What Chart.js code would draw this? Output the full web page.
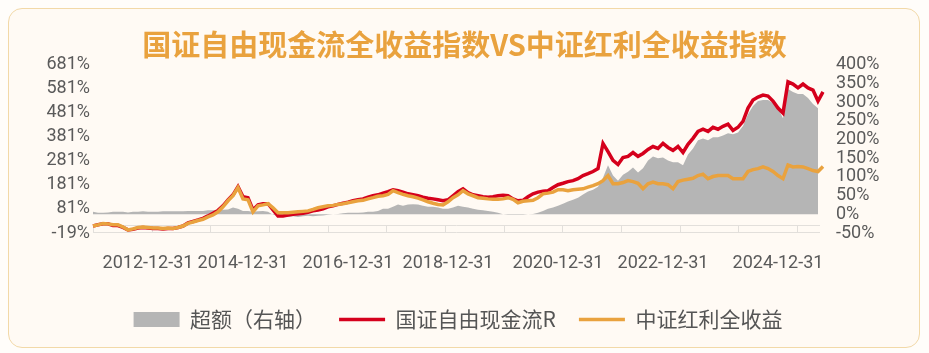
<!DOCTYPE html>
<html>
<head>
<meta charset="utf-8">
<script src="https://cdn.jsdelivr.net/npm/chart.js@4.4.1/dist/chart.umd.min.js"></script>
<style>
  html, body { margin: 0; padding: 0; background: #fffdfa; }
  #wrap { position: relative; width: 929px; height: 353px; }
  #card {
    position: absolute; left: 8px; top: 8px; width: 910px; height: 338px;
    background: #fffaf4; border: 1.5px solid #f2d9a8; border-radius: 14px;
  }
  canvas { position: absolute; left: 0; top: 0; }
</style>
</head>
<body>
<div id="wrap">
  <div id="card"></div>
  <canvas id="chart" width="929" height="353"></canvas>
</div>
<script>
const titleText = '国证自由现金流全收益指数VS中证红利全收益指数';
const seriesNames = ['超额（右轴）', '国证自由现金流R', '中证红利全收益'];

// x tick labels and the sample index where each one sits
const xTickLabels = ['2012-12-31', '2014-12-31', '2016-12-31', '2018-12-31', '2020-12-31', '2022-12-31', '2024-12-31'];
const xTickIndex = [11, 30, 51, 71, 93, 114, 137];

const leftTicks = [-19, 81, 181, 281, 381, 481, 581, 681];
const rightTicks = [-50, 0, 50, 100, 150, 200, 250, 300, 350, 400];

// 国证自由现金流R (left axis, %)
const fcfIndex = [
  10, 15, 19, 19, 12, 12, 4, -6, -4, 2, 4, 2, 0, 0, -2, 0, 0, 4, 10, 23,
  29, 35, 42, 52, 63, 75, 94, 119, 140, 174, 132, 128, 77, 98, 103, 103, 77, 52, 52, 56,
  59, 61, 63, 67, 73, 77, 82, 90, 94, 100, 105, 109, 115, 119, 123, 130, 136, 140, 147, 153,
  161, 157, 151, 144, 140, 136, 130, 126, 123, 119, 115, 119, 136, 153, 165, 149, 140, 136, 132, 130,
  132, 136, 138, 136, 123, 115, 117, 132, 144, 151, 155, 157, 170, 182, 188, 195, 199, 207, 220, 228,
  237, 249, 354, 320, 283, 266, 295, 300, 316, 300, 312, 329, 341, 333, 354, 337, 325, 341, 316, 350,
  375, 404, 413, 404, 421, 413, 425, 434, 408, 421, 446, 501, 534, 547, 555, 551, 530, 501, 480, 610,
  601, 585, 601, 585, 576, 530, 568
];

// 中证红利全收益 (left axis, %)
const dividendIndex = [
  10, 15, 20, 19, 15, 15, 6, -6, -2, 4, 6, 4, 2, 2, 0, 2, 0, 4, 10, 21,
  27, 33, 38, 48, 56, 69, 90, 115, 136, 170, 123, 119, 69, 94, 98, 103, 86, 65, 65, 65,
  67, 69, 71, 73, 79, 86, 90, 94, 96, 100, 103, 107, 111, 115, 117, 123, 128, 134, 136, 142,
  157, 149, 142, 136, 132, 126, 119, 111, 105, 100, 98, 111, 128, 140, 157, 144, 136, 128, 126, 123,
  121, 121, 123, 128, 121, 107, 113, 115, 117, 128, 144, 147, 151, 161, 161, 157, 161, 163, 165, 172,
  178, 186, 199, 220, 186, 186, 191, 199, 195, 188, 165, 186, 193, 186, 186, 182, 165, 195, 201, 205,
  209, 220, 226, 207, 216, 220, 220, 220, 207, 207, 207, 237, 245, 249, 256, 249, 237, 220, 207, 264,
  256, 258, 256, 249, 241, 237, 258
];

// 超额 (right axis, %)
const excess = [
  7, 4, 4, 5, 7, 7, 7, 5, 7, 7, 8, 7, 7, 7, 8, 8, 8, 8, 8, 9,
  9, 9, 9, 11, 11, 12, 12, 13, 18, 15, 9, 9, 7, 8, 9, 7, -1, -4, -7, -7,
  -5, -7, -5, -4, -5, -4, -3, -1, 0, 1, 3, 4, 4, 4, 5, 7, 7, 9, 15, 15,
  20, 26, 23, 26, 27, 26, 23, 20, 20, 18, 15, 15, 18, 23, 20, 18, 15, 12, 11, 9,
  7, 4, 0, -1, -1, -1, -1, 0, 1, 4, 9, 15, 18, 23, 28, 34, 39, 44, 53, 61,
  66, 74, 98, 131, 104, 90, 106, 114, 125, 112, 123, 144, 155, 150, 152, 144, 139, 139, 131, 160,
  176, 198, 203, 198, 206, 206, 211, 217, 214, 219, 236, 268, 290, 303, 306, 306, 298, 284, 257, 335,
  327, 322, 322, 311, 295, 284
];

const categories = fcfIndex.map((v, i) => {
  const k = xTickIndex.indexOf(i);
  return k >= 0 ? xTickLabels[k] : '';
});

const tickFont = { family: 'Roboto', size: 18 };
const tickColor = '#5a5a5a';
const cjkFont = 'Noto Sans CJK SC';

// axis band at the bottom of the plot (line + small tick marks)
const axisBand = {
  id: 'axisBand',
  beforeDatasetsDraw(chart) {
    const { ctx, chartArea, scales } = chart;
    const yTop = chartArea.bottom - 8;
    const yBot = chartArea.bottom - 1;
    ctx.save();
    ctx.strokeStyle = '#e2dfdb';
    ctx.lineWidth = 1;
    ctx.beginPath();
    ctx.moveTo(chartArea.left, yTop + 0.5);
    ctx.lineTo(chartArea.right - 3, yTop + 0.5);
    ctx.moveTo(chartArea.left, yBot + 0.5);
    ctx.lineTo(chartArea.right - 3, yBot + 0.5);
    for (let k = 0; k * 11.73 <= fcfIndex.length - 1; k++) {
      const x = Math.round(scales.x.getPixelForValue(k * 11.73)) + 0.5;
      ctx.moveTo(x, yTop);
      ctx.lineTo(x, yBot + 1);
    }
    ctx.stroke();
    ctx.restore();
  }
};

new Chart(document.getElementById('chart'), {
  type: 'line',
  data: {
    labels: categories,
    datasets: [
      {
        label: seriesNames[0],
        data: excess,
        yAxisID: 'yR',
        fill: 'origin',
        backgroundColor: '#b5b5b5',
        borderColor: '#b5b5b5',
        borderWidth: 0,
        pointRadius: 0,
        pointStyle: 'rect',
        order: 3
      },
      {
        label: seriesNames[1],
        data: fcfIndex,
        yAxisID: 'yL',
        borderColor: '#d5001c',
        backgroundColor: '#d5001c',
        borderWidth: 3.5,
        pointRadius: 0,
        pointStyle: 'line',
        fill: false,
        order: 2
      },
      {
        label: seriesNames[2],
        data: dividendIndex,
        yAxisID: 'yL',
        borderColor: '#e9a23e',
        backgroundColor: '#e9a23e',
        borderWidth: 3.5,
        pointRadius: 0,
        pointStyle: 'line',
        fill: false,
        order: 1
      }
    ]
  },
  options: {
    responsive: false,
    animation: false,
    layout: { padding: { top: 15, bottom: 13, left: 0, right: 0 } },
    plugins: {
      title: {
        display: true,
        text: titleText,
        color: '#e9a23e',
        font: { family: cjkFont, size: 29, weight: 'bold' },
        padding: { top: 13, bottom: 2 }
      },
      legend: {
        position: 'bottom',
        fullSize: false,
        labels: {
          usePointStyle: true,
          pointStyleWidth: 46,
          boxHeight: 15,
          padding: 23,
          color: '#555555',
          font: { family: cjkFont, size: 21 },
          sort: (a, b) => a.datasetIndex - b.datasetIndex
        }
      },
      tooltip: { enabled: false }
    },
    scales: {
      x: {
        grid: { display: false, drawTicks: false },
        border: { display: false },
        ticks: {
          autoSkip: false,
          maxRotation: 0,
          minRotation: 0,
          padding: 20,
          color: tickColor,
          font: tickFont
        },
        afterFit(scale) { scale.height = 53; }
      },
      yL: {
        position: 'left',
        min: -19,
        max: 681,
        grid: { display: false, drawTicks: false },
        border: { display: false },
        afterBuildTicks(scale) { scale.ticks = leftTicks.map(v => ({ value: v })); },
        ticks: { autoSkip: false, padding: 3, color: tickColor, font: tickFont, callback: v => v + '%' },
        afterFit(scale) { scale.width = 93; }
      },
      yR: {
        position: 'right',
        min: -50,
        max: 400,
        grid: { display: false, drawTicks: false },
        border: { display: false },
        afterBuildTicks(scale) { scale.ticks = rightTicks.map(v => ({ value: v })); },
        ticks: { autoSkip: false, padding: 13, color: tickColor, font: tickFont, callback: v => v + '%' },
        afterFit(scale) { scale.width = 106; }
      }
    }
  },
  plugins: [axisBand]
});
</script>
</body>
</html>
